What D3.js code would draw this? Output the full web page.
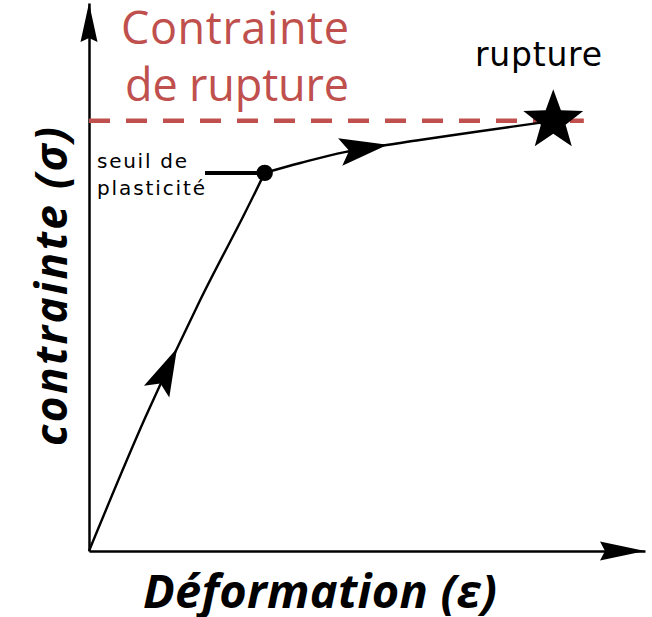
<!DOCTYPE html>
<html lang="fr">
<head>
<meta charset="utf-8">
<title>Courbe contrainte–déformation</title>
<script src="https://cdn.jsdelivr.net/npm/d3@7/dist/d3.min.js"></script>
<style>
  html, body { margin: 0; padding: 0; background: #fff; }
  svg { display: block; }
</style>
</head>
<body>
<svg id="chart" width="652" height="617"></svg>
<script>
// Stress–strain curve (arbitrary units, 0–100 on both axes)
const strain = [0, 10.1, 20, 27.7, 31.6, 38, 46, 59.5, 70.3, 83.5];
const stress = [0, 24.3, 45.8, 61, 69, 70.8, 72.8, 75, 76.6, 78.5];
const yieldIndex = 4;                 // seuil de plasticité
const ruptureIndex = strain.length - 1;

// Where the direction arrows sit along each branch (fraction of branch length)
const arrowFractions = [0.53, 0.43];

// Texts
const axisTitles = { x: "Déformation (ε)", y: "contrainte (σ)" };
const ruptureStressLines = ["Contrainte", "de rupture"];
const yieldLines = ["seuil de", "plasticité"];
const ruptureLabel = "rupture";

const RED = "#C0504D";
const svg = d3.select("#chart");

const x = d3.scaleLinear().domain([0, 100]).range([89, 645]);
const y = d3.scaleLinear().domain([0, 100]).range([551, 3]);

// Axes: bare lines with arrowheads, no ticks
svg.append("g")
  .attr("transform", `translate(0,${y(0)})`)
  .call(d3.axisBottom(x).tickValues([]).tickSizeOuter(0))
  .call(g => g.select(".domain").attr("stroke", "#000").attr("stroke-width", 2.5));
svg.append("g")
  .attr("transform", `translate(${x(0)},0)`)
  .call(d3.axisLeft(y).tickValues([]).tickSizeOuter(0))
  .call(g => g.select(".domain").attr("stroke", "#000").attr("stroke-width", 2.5));

// Arrowhead: tip at (0,0) pointing along +x, body behind it
function arrowPath(len, half, notch) {
  return `M0,0 L${-len},${-half} L${-len + notch},0 L${-len},${half} Z`;
}
function placeArrow(px, py, angleDeg, len, half, notch) {
  svg.append("path")
    .attr("d", arrowPath(len, half, notch))
    .attr("transform", `translate(${px},${py}) rotate(${angleDeg})`)
    .attr("fill", "#000");
}
placeArrow(x.range()[1], y(0), 0, 45, 9.5, 5);
placeArrow(x(0), y.range()[1], -90, 39, 8.5, 4);

// Red dashed line at the rupture stress
svg.append("line")
  .attr("x1", x(0))
  .attr("x2", x(strain[ruptureIndex] + 5.5))
  .attr("y1", y(stress[ruptureIndex]))
  .attr("y2", y(stress[ruptureIndex]))
  .attr("stroke", RED)
  .attr("stroke-width", 4.5)
  .attr("stroke-dasharray", "21 16");

// Curve: elastic branch then plastic branch
const line = d3.line()
  .x(i => x(strain[i]))
  .y(i => y(stress[i]))
  .curve(d3.curveCatmullRom);
const branches = [
  d3.range(0, yieldIndex + 1),
  d3.range(yieldIndex, ruptureIndex + 1)
];
const branchPaths = branches.map(idx =>
  svg.append("path")
    .attr("d", line(idx))
    .attr("fill", "none")
    .attr("stroke", "#000")
    .attr("stroke-width", 2.4)
    .node()
);

// Direction arrows along each branch
branchPaths.forEach((p, k) => {
  const L = p.getTotalLength();
  const s = L * arrowFractions[k];
  const a = p.getPointAtLength(s);
  const b = p.getPointAtLength(Math.max(0, s - 4));
  const ang = Math.atan2(a.y - b.y, a.x - b.x) * 180 / Math.PI;
  placeArrow(a.x, a.y, ang, 48, 14, 9);
});

// Yield point with leader line and label
const yx = x(strain[yieldIndex]), yy = y(stress[yieldIndex]);
svg.append("line")
  .attr("x1", 205).attr("x2", yx)
  .attr("y1", yy).attr("y2", yy)
  .attr("stroke", "#000").attr("stroke-width", 4);
svg.append("circle")
  .attr("cx", yx).attr("cy", yy).attr("r", 8.2)
  .attr("fill", "#000");
const yieldText = svg.append("g")
  .attr("font-family", "'DejaVu Sans', sans-serif")
  .attr("font-size", 20)
  .attr("fill", "#000");
yieldText.append("text").attr("x", 97).attr("y", yy - 5)
  .attr("textLength", 90).text(yieldLines[0]);
yieldText.append("text").attr("x", 97).attr("y", yy + 22)
  .attr("textLength", 108).text(yieldLines[1]);

// Rupture star
const rx = x(strain[ruptureIndex]), ry = y(stress[ruptureIndex]);
const R = 31.5, r = 13;
const starPts = d3.range(10).map(i => {
  const ang = -Math.PI / 2 + i * Math.PI / 5;
  const rad = i % 2 === 0 ? R : r;
  return [rx + rad * Math.cos(ang), ry + rad * Math.sin(ang)];
});
svg.append("polygon")
  .attr("points", starPts.map(p => p.join(",")).join(" "))
  .attr("fill", "#000");
svg.append("text")
  .attr("x", 475).attr("y", ry - 55)
  .attr("font-family", "'DejaVu Sans', sans-serif")
  .attr("font-size", 33)
  .attr("textLength", 127)
  .attr("fill", "#000")
  .text(ruptureLabel);

// Rupture stress label
const redText = svg.append("g")
  .attr("font-family", "'Open Sans', sans-serif")
  .attr("font-size", 45)
  .attr("fill", RED);
redText.append("text").attr("x", 121).attr("y", 44)
  .attr("textLength", 228).text(ruptureStressLines[0]);
redText.append("text").attr("x", 125).attr("y", 101)
  .attr("textLength", 224).text(ruptureStressLines[1]);

// Axis titles
svg.append("text")
  .attr("x", 143).attr("y", 608)
  .attr("font-family", "'Open Sans', sans-serif")
  .attr("font-weight", 700).attr("font-style", "italic")
  .attr("font-size", 47)
  .attr("textLength", 354)
  .attr("fill", "#000")
  .text(axisTitles.x);
svg.append("text")
  .attr("transform", "translate(67,446) rotate(-90)")
  .attr("font-family", "'Open Sans', sans-serif")
  .attr("font-weight", 700).attr("font-style", "italic")
  .attr("font-size", 44)
  .attr("textLength", 319)
  .attr("fill", "#000")
  .text(axisTitles.y);
</script>
</body>
</html>
